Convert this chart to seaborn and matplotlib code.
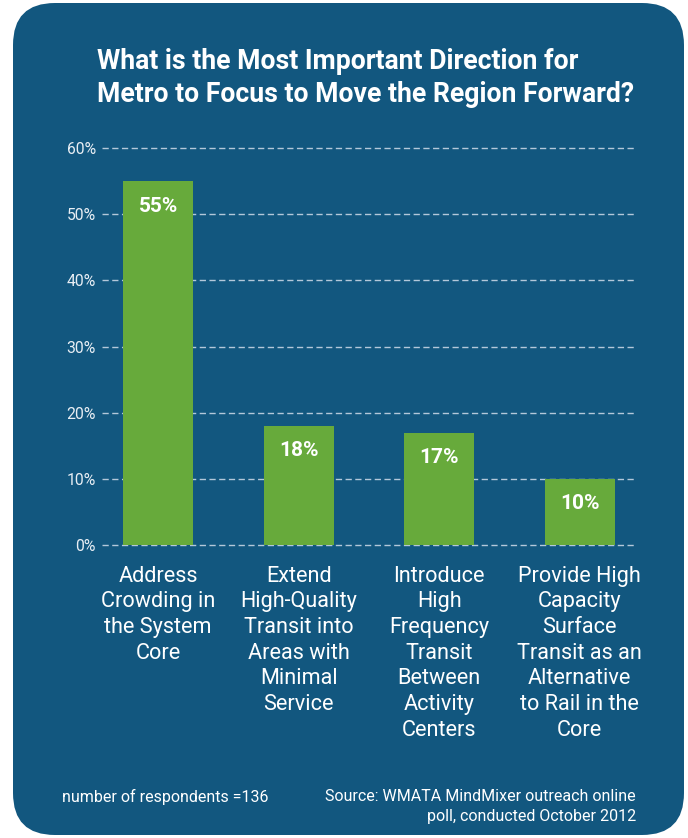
import matplotlib
matplotlib.use("Agg")
import matplotlib.pyplot as plt
import seaborn as sns
import pandas as pd
from matplotlib.patches import FancyBboxPatch

categories = [
    "Address\nCrowding in\nthe System\nCore",
    "Extend\nHigh-Quality\nTransit into\nAreas with\nMinimal\nService",
    "Introduce\nHigh\nFrequency\nTransit\nBetween\nActivity\nCenters",
    "Provide High\nCapacity\nSurface\nTransit as an\nAlternative\nto Rail in the\nCore",
]
values = [55, 18, 17, 10]
yticks = [0, 10, 20, 30, 40, 50, 60]
ytick_labels = ["0%", "10%", "20%", "30%", "40%", "50%", "60%"]
title = "What is the Most Important Direction for\nMetro to Focus to Move the Region Forward?"
note_left = "number of respondents =136"
note_right = "Source: WMATA MindMixer outreach online\npoll, conducted October 2012"

BG = "#12577f"
GREEN = "#67aa3b"
W, H = 688, 838

sns.set_theme(style="white")
plt.rcParams["font.family"] = ["Roboto", "DejaVu Sans"]

fig = plt.figure(figsize=(W / 100, H / 100), dpi=100, facecolor="white")

# background rounded panel (pixel coordinates)
bg = fig.add_axes([0, 0, 1, 1], zorder=0)
bg.set_xlim(0, W)
bg.set_ylim(H, 0)
bg.axis("off")
bg.add_patch(FancyBboxPatch((13, 3), 671, 832,
                            boxstyle="round,pad=0,rounding_size=42",
                            facecolor=BG, edgecolor="none"))

# main axes
left, right = 102 / W, 636 / W
y0_px, y60_px = 545, 148
ymax = 61
top_px = y0_px - (y0_px - y60_px) * ymax / 60
ax = fig.add_axes([left, 1 - y0_px / H, right - left, (y0_px - top_px) / H], zorder=1)
ax.set_facecolor("none")

df = pd.DataFrame({"cat": categories, "val": values})
sns.barplot(data=df, x="cat", y="val", color=GREEN, saturation=1, width=0.5,
            linewidth=0, edgecolor="none", ax=ax, zorder=3)

ax.set_xlim(-0.4, 3.4)
ax.set_ylim(0, ymax)
ax.set_yticks(yticks)
ax.set_yticklabels(ytick_labels)
ax.set_xlabel("")
ax.set_ylabel("")
for s in ax.spines.values():
    s.set_visible(False)

for yv in yticks:
    ax.axhline(yv, color="#b4c8da", lw=1.0, ls=(0, (4.5, 2.5)), zorder=1,
               clip_on=False)

ax.tick_params(axis="y", length=0, pad=4.5, labelsize=11.3, labelcolor="#e8eef4")
ax.tick_params(axis="x", length=0, pad=15, labelsize=15.6, labelcolor="white")
for lbl in ax.get_xticklabels():
    lbl.set_linespacing(1.29)

for i, v in enumerate(values):
    ax.annotate(f"{v}%", xy=(i, v), xytext=(0, -18), textcoords="offset points",
                ha="center", va="center", color="white", fontsize=15,
                fontweight="bold", zorder=5)

fig.text(97 / W, 1 - 48 / H, title, ha="left", va="top", color="white",
         fontsize=19.2, fontweight="bold", linespacing=1.3)
fig.text(62 / W, 1 - 797 / H, note_left, ha="left", va="center", color="white",
         fontsize=11.5)
fig.text(636 / W, 1 - 789 / H, note_right, ha="right", va="top", color="white",
         fontsize=11.5, linespacing=1.38)

fig.savefig("out.png", dpi=100, facecolor="white")
